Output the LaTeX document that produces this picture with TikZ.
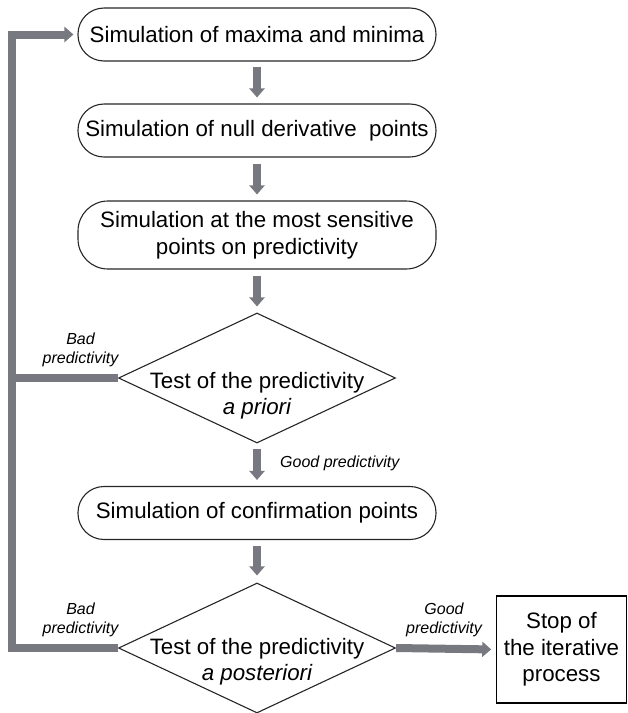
\documentclass[tikz,border=0pt]{standalone}
\usepackage{fontspec}
\setmainfont{Liberation Sans}
\usetikzlibrary{arrows.meta,shapes.geometric,calc}
\definecolor{flowgray}{RGB}{120,121,128}
\begin{document}
\begin{tikzpicture}[x=1pt,y=-1pt,
  proc/.style={draw=black!85, line width=1.1pt, rounded corners=26pt, minimum width=358pt, minimum height=53pt, inner sep=0pt, align=center, font=\fontsize{22.3}{26.5}\selectfont},
  dec/.style={draw=black!85, line width=1.1pt, diamond, minimum width=277pt, minimum height=130pt, inner sep=0pt},
  dectext/.style={align=center, font=\fontsize{22.3}{26.5}\selectfont, inner sep=0pt},
  lab/.style={align=center, font=\fontsize{16}{19.5}\selectfont\itshape, inner sep=0pt},
  flow/.style={draw=flowgray, line width=8pt, -{Triangle[length=9pt,width=15pt]}, line join=miter},
  fline/.style={draw=flowgray, line width=8pt, line join=miter}
]
\useasboundingbox (0,0) rectangle (628,713);
\coordinate (fb) at (12,0);

\node[proc] (b1) at (257,34.5) {Simulation of maxima and minima};
\node[proc] (b2) at (257,130.5) {Simulation of null derivative\ \ points};
\node[proc, minimum height=68pt, rounded corners=30pt] (b3) at (257,235) {Simulation at the most sensitive\\points on predictivity};
\node[dec] (d1) at (257,378) {};
\node[dectext] (t1) at (257,395.5) {Test of the predictivity\\\itshape a priori};
\node[proc] (b4) at (257,513) {Simulation of confirmation points};
\node[dec] (d2) at (257,648) {};
\node[dectext] (t2) at (257,661.5) {Test of the predictivity\\\itshape a posteriori};
\node[draw=black, line width=1.6pt, minimum width=130pt, minimum height=107pt, inner sep=0pt, align=center, font=\fontsize{22.3}{26.5}\selectfont] (stop) at (561.5,649.5) {Stop of\\the iterative\\process};

\node[lab] (bad1) at (80.5,350) {Bad\\predictivity};
\node[lab] (bad2) at (80.5,620) {Bad\\predictivity};
\node[lab] (good2) at (444,620) {Good\\predictivity};
\node[lab, anchor=base west] (good1) at (280,467) {Good predictivity};

\draw[flow, shorten <=5pt, shorten >=6pt] (b1.south) -- (b2.north);
\draw[flow, shorten <=6pt, shorten >=6pt] (b2.south) -- (b3.north);
\draw[flow, shorten <=6pt, shorten >=6pt] (b3.south) -- (d1.north);
\draw[flow, shorten <=5pt, shorten >=6pt] (d1.south) -- (b4.north);
\draw[flow, shorten <=6pt, shorten >=7pt] (b4.south) -- (d2.north);
\draw[flow, shorten >=4.5pt] (d2.east) -- (stop.west);
\draw[flow, shorten >=4pt] (d2.west) -- (d2.west -| fb) |- (b1.west);
\draw[fline] (d1.west) -- (d1.west -| fb);
\end{tikzpicture}
\end{document}
